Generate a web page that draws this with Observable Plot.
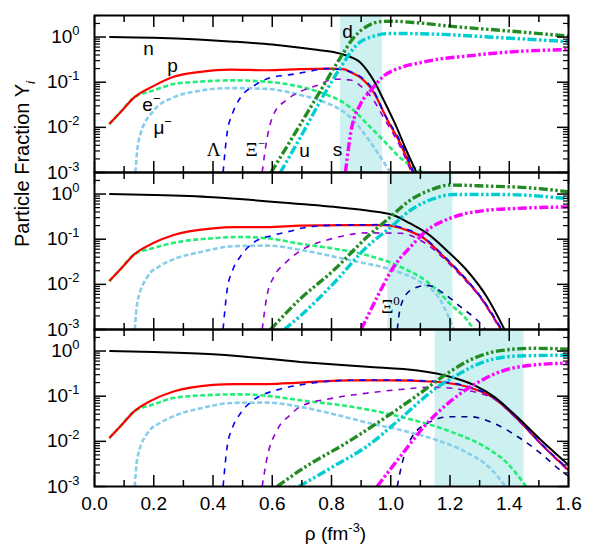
<!DOCTYPE html>
<html>
<head>
<meta charset="utf-8">
<script src="https://cdn.jsdelivr.net/npm/d3@7"></script>
<script src="https://cdn.jsdelivr.net/npm/@observablehq/plot@0.6"></script>
<style>
  body { margin: 0; background: #fff; }
  #chart svg { display: block; }
</style>
</head>
<body>
<div id="chart"></div>
<script>
// Three stacked panels (top to bottom)
const panels = ["A", "B", "C"];

// Axis ticks
const xMajor = [0, 0.2, 0.4, 0.6, 0.8, 1.0, 1.2, 1.4, 1.6];
const xMinor = [0.1, 0.3, 0.5, 0.7, 0.9, 1.1, 1.3, 1.5];
const yDecades = [1, 0.1, 0.01, 0.001];
const yMinor = [0.002, 0.003, 0.004, 0.005, 0.006, 0.007, 0.008, 0.009,
                0.02, 0.03, 0.04, 0.05, 0.06, 0.07, 0.08, 0.09,
                0.2, 0.3, 0.4, 0.5, 0.6, 0.7, 0.8, 0.9, 2, 3];

// Mixed-phase density ranges, one per panel
const shadePanel = ["A", "B", "C"];
const shadeStart = [0.83, 0.99, 1.15];
const shadeEnd = [0.972, 1.21, 1.45];

// Particle fractions [rho, Y] — panel A
const nA = [[0.05,1.0],[0.2,0.96],[0.35,0.88],[0.47,0.79],[0.6,0.68],[0.695,0.58],[0.76,0.51],[0.81,0.46],[0.85,0.39],[0.898,0.27],[0.943,0.107],[0.977,0.039],[1.02,0.01],[1.05,0.0034],[1.087,0.001]];
const pA = [[0.05,0.0118],[0.09,0.0225],[0.134,0.046],[0.2,0.083],[0.267,0.132],[0.358,0.17],[0.459,0.19],[0.583,0.184],[0.695,0.195],[0.8,0.2],[0.84,0.195],[0.87,0.16],[0.898,0.126],[0.943,0.059],[0.99,0.014],[1.033,0.0043],[1.075,0.001]];
const eA = [[0.05,0.0118],[0.09,0.0225],[0.134,0.046],[0.2,0.066],[0.267,0.091],[0.358,0.103],[0.459,0.11],[0.583,0.102],[0.695,0.079],[0.763,0.059],[0.864,0.0275],[0.92,0.012],[0.977,0.005],[1.033,0.0021],[1.11,0.001]];
const muA = [[0.138,0.001],[0.144,0.003],[0.155,0.007],[0.2,0.0234],[0.267,0.046],[0.358,0.065],[0.459,0.074],[0.583,0.071],[0.695,0.052],[0.763,0.039],[0.864,0.0166],[0.92,0.006],[0.965,0.0022],[0.999,0.001]];
const lamA = [[0.434,0.001],[0.448,0.0078],[0.465,0.0195],[0.493,0.046],[0.538,0.083],[0.594,0.126],[0.656,0.145],[0.718,0.17],[0.78,0.2],[0.84,0.185],[0.87,0.165],[0.898,0.133],[0.943,0.063],[0.977,0.021],[1.033,0.0048],[1.078,0.001]];
const ximA = [[0.566,0.001],[0.583,0.006],[0.605,0.0195],[0.645,0.039],[0.695,0.062],[0.757,0.087],[0.807,0.117],[0.864,0.112],[0.898,0.083],[0.943,0.039],[0.977,0.016],[1.033,0.0036],[1.07,0.001]];
const dA = [[0.596,0.001],[0.695,0.0117],[0.763,0.065],[0.83,0.35],[0.875,0.97],[0.92,1.74],[0.965,2.19],[1.0,2.24],[1.09,2.07],[1.2,1.74],[1.37,1.41],[1.6,1.05]];
const uA = [[0.627,0.001],[0.695,0.006],[0.763,0.039],[0.83,0.21],[0.887,0.69],[0.943,1.05],[1.0,1.2],[1.145,1.16],[1.37,0.97],[1.6,0.79]];
const sA = [[0.847,0.001],[0.864,0.007],[0.898,0.033],[0.932,0.065],[0.977,0.138],[1.033,0.21],[1.1,0.27],[1.145,0.31],[1.258,0.38],[1.37,0.45],[1.6,0.53]];

// Panel B
const nB = [[0.05,1.0],[0.2,0.95],[0.4,0.85],[0.695,0.6],[0.807,0.52],[0.92,0.43],[1.01,0.34],[1.067,0.22],[1.123,0.135],[1.2,0.048],[1.258,0.02],[1.325,0.0052],[1.384,0.001]];
const pB = [[0.05,0.0118],[0.09,0.0225],[0.134,0.046],[0.2,0.083],[0.267,0.124],[0.4,0.174],[0.47,0.186],[0.583,0.186],[0.695,0.2],[0.85,0.205],[0.977,0.204],[1.055,0.158],[1.112,0.105],[1.168,0.048],[1.235,0.0174],[1.303,0.0052],[1.372,0.001]];
const eB = [[0.05,0.0118],[0.09,0.0225],[0.134,0.046],[0.2,0.064],[0.267,0.083],[0.4,0.105],[0.493,0.112],[0.583,0.105],[0.695,0.079],[0.807,0.062],[0.92,0.044],[1.033,0.0245],[1.145,0.0087],[1.2,0.0037],[1.258,0.0016],[1.28,0.001]];
const muB = [[0.136,0.001],[0.144,0.0037],[0.178,0.0145],[0.223,0.026],[0.267,0.036],[0.358,0.052],[0.47,0.07],[0.583,0.072],[0.695,0.058],[0.864,0.034],[1.01,0.0204],[1.09,0.0123],[1.168,0.0044],[1.213,0.001]];
const lamB = [[0.434,0.001],[0.448,0.0078],[0.465,0.0195],[0.493,0.042],[0.538,0.085],[0.605,0.123],[0.673,0.158],[0.695,0.174],[0.807,0.204],[0.977,0.21],[1.055,0.165],[1.112,0.11],[1.168,0.05],[1.235,0.018],[1.303,0.0054],[1.375,0.001]];
const ximB = [[0.566,0.001],[0.583,0.006],[0.605,0.0145],[0.645,0.03],[0.695,0.055],[0.807,0.105],[0.92,0.138],[1.033,0.135],[1.1,0.095],[1.18,0.037],[1.235,0.016],[1.303,0.005],[1.37,0.001]];
const dB = [[0.594,0.001],[0.695,0.0048],[0.807,0.0204],[0.92,0.112],[1.0,0.316],[1.067,0.74],[1.134,1.23],[1.2,1.58],[1.314,1.51],[1.482,1.35],[1.6,1.12]];
const uB = [[0.64,0.001],[0.695,0.002],[0.807,0.0105],[0.92,0.068],[1.0,0.186],[1.067,0.44],[1.145,0.79],[1.213,0.98],[1.37,0.98],[1.6,0.79]];
const sB = [[0.9,0.001],[0.954,0.0052],[1.01,0.0245],[1.067,0.068],[1.123,0.158],[1.2,0.29],[1.314,0.43],[1.426,0.48],[1.6,0.52]];
const xi0B = [[1.022,0.001],[1.033,0.0032],[1.067,0.0074],[1.123,0.0095],[1.18,0.0062],[1.235,0.0032],[1.303,0.00135],[1.32,0.001]];

// Panel C
const nC = [[0.05,1.0],[0.2,0.95],[0.4,0.85],[0.695,0.575],[0.92,0.45],[1.09,0.37],[1.2,0.27],[1.28,0.178],[1.348,0.098],[1.426,0.035],[1.505,0.011],[1.6,0.003]];
const pC = [[0.05,0.0118],[0.09,0.0225],[0.134,0.046],[0.2,0.085],[0.267,0.127],[0.4,0.178],[0.47,0.186],[0.583,0.186],[0.695,0.2],[0.864,0.224],[1.0,0.225],[1.145,0.209],[1.258,0.162],[1.348,0.091],[1.426,0.032],[1.505,0.0091],[1.6,0.0023]];
const eC = [[0.05,0.0118],[0.09,0.0225],[0.134,0.046],[0.2,0.066],[0.267,0.091],[0.4,0.107],[0.493,0.11],[0.583,0.102],[0.695,0.081],[0.864,0.059],[1.033,0.035],[1.2,0.0166],[1.314,0.0078],[1.393,0.0033],[1.457,0.001]];
const muC = [[0.136,0.001],[0.144,0.004],[0.178,0.015],[0.223,0.026],[0.267,0.036],[0.358,0.054],[0.47,0.071],[0.583,0.072],[0.695,0.058],[0.807,0.04],[0.92,0.026],[1.033,0.0178],[1.145,0.0112],[1.258,0.0056],[1.337,0.0025],[1.387,0.001]];
const lamC = [[0.434,0.001],[0.448,0.0078],[0.465,0.0195],[0.493,0.042],[0.538,0.083],[0.617,0.138],[0.695,0.178],[0.864,0.226],[1.0,0.228],[1.145,0.214],[1.258,0.165],[1.348,0.093],[1.426,0.033],[1.505,0.0093],[1.6,0.0024]];
const ximC = [[0.566,0.001],[0.583,0.0045],[0.617,0.018],[0.662,0.039],[0.695,0.059],[0.807,0.091],[0.92,0.117],[1.033,0.141],[1.145,0.158],[1.235,0.141],[1.348,0.088],[1.426,0.031],[1.505,0.009],[1.6,0.0022]];
const dC = [[0.617,0.001],[0.695,0.0023],[0.864,0.0105],[0.977,0.032],[1.09,0.105],[1.2,0.35],[1.28,0.69],[1.37,1.02],[1.482,1.15],[1.6,1.1]];
const uC = [[0.69,0.001],[0.807,0.0028],[0.92,0.0078],[1.033,0.032],[1.145,0.138],[1.224,0.295],[1.314,0.575],[1.426,0.776],[1.6,0.81]];
const sC = [[0.954,0.001],[1.033,0.0047],[1.112,0.021],[1.2,0.076],[1.28,0.178],[1.37,0.35],[1.482,0.49],[1.6,0.54]];
const xi0C = [[1.022,0.001],[1.033,0.0023],[1.067,0.011],[1.123,0.025],[1.2,0.035],[1.27,0.035],[1.348,0.025],[1.426,0.013],[1.505,0.0055],[1.584,0.002],[1.6,0.0017]];

// Curve labels
const labelText = ["n", "p", "e^{−}", "μ^{−}", "Λ", "Ξ^{−}", "u", "s", "d", "Ξ^{0}"];
const labelPanel = ["A", "A", "A", "A", "A", "A", "A", "A", "A", "B"];
const labelX = [0.182, 0.263, 0.192, 0.23, 0.402, 0.543, 0.709, 0.82, 0.854, 0.999];
const labelY = [0.557, 0.229, 0.0316, 0.0098, 0.0032, 0.0032, 0.003, 0.0032, 1.29, 0.0031];

// ---- assemble tables ----
const series = {
  mu:  {A: muA, B: muB, C: muC},
  e:   {A: eA, B: eB, C: eC},
  p:   {A: pA, B: pB, C: pC},
  lam: {A: lamA, B: lamB, C: lamC},
  xim: {A: ximA, B: ximB, C: ximC},
  xi0: {B: xi0B, C: xi0C},
  n:   {A: nA, B: nB, C: nC},
  d:   {A: dA, B: dB, C: dC},
  u:   {A: uA, B: uB, C: uC},
  s:   {A: sA, B: sB, C: sC}
};

const quarkDash = "9 2.5 2.5 2.5 2.5 2.5";
const styles = {
  mu:  {stroke: "#87ceeb", strokeWidth: 2.6, strokeDasharray: "5 2.5"},
  e:   {stroke: "#22ee77", strokeWidth: 2.6, strokeDasharray: "5 2.5"},
  p:   {stroke: "#ff0000", strokeWidth: 2.2},
  lam: {stroke: "#0000ff", strokeWidth: 1.6, strokeDasharray: "6 6"},
  xim: {stroke: "#9400d3", strokeWidth: 1.6, strokeDasharray: "6 6"},
  xi0: {stroke: "#00008b", strokeWidth: 1.6, strokeDasharray: "6 6"},
  n:   {stroke: "#000000", strokeWidth: 2},
  d:   {stroke: "#228b22", strokeWidth: 3.4, strokeDasharray: quarkDash},
  u:   {stroke: "#00ced1", strokeWidth: 3.4, strokeDasharray: quarkDash},
  s:   {stroke: "#ff00ff", strokeWidth: 3.4, strokeDasharray: quarkDash}
};

const rows = [];
for (const [key, byPanel] of Object.entries(series)) {
  for (const [panel, pts] of Object.entries(byPanel)) {
    for (const [x, y] of pts) rows.push({key, panel, x, y});
  }
}
const shades = shadePanel.map((panel, i) => ({panel, x1: shadeStart[i], x2: shadeEnd[i]}));
const labels = labelText.map((t, i) => ({text: t, panel: labelPanel[i], x: labelX[i], y: labelY[i]}));
const isGreek = (t) => /^[ΛΞ]/.test(t);

const supFormat = (d) => `10^{${Math.round(Math.log10(d))}}`;

const chart = Plot.plot({
  width: 600,
  height: 550,
  marginLeft: 94,
  marginRight: 32,
  marginTop: 14,
  marginBottom: 63,
  style: {fontFamily: "'Liberation Sans', Arial, Helvetica, sans-serif", fontSize: "19px", background: "#fff", color: "#000"},
  x: {domain: [0, 1.6]},
  y: {type: "log", domain: [0.001, 3]},
  fy: {domain: panels, padding: 0, axis: null},
  marks: [
    Plot.rect(shades, {x1: "x1", x2: "x2", fy: "panel", fill: "#cdf1f1"}),
    ...Object.keys(styles).map((key) =>
      Plot.line(rows.filter((r) => r.key === key), {
        x: "x", y: "y", fy: "panel", curve: "monotone-x", clip: true,
        strokeLinecap: "butt", strokeLinejoin: "miter", ...styles[key]
      })
    ),
    Plot.text(labels.filter((l) => !isGreek(l.text)), {
      x: "x", y: "y", fy: "panel", text: "text", fontSize: 19, fill: "#000"
    }),
    Plot.text(labels.filter((l) => isGreek(l.text)), {
      x: "x", y: "y", fy: "panel", text: "text", fontSize: 19, fill: "#000",
      fontFamily: "'Liberation Serif', 'Times New Roman', serif"
    }),
    Plot.frame({stroke: "#000", strokeWidth: 2}),
    // inward tick marks on all four sides of every panel
    Plot.axisX(xMajor, {anchor: "bottom", tickSize: -11, fill: "none", strokeWidth: 1.5, label: null, facetAnchor: null}),
    Plot.axisX(xMinor, {anchor: "bottom", tickSize: -6, fill: "none", strokeWidth: 1.5, label: null, facetAnchor: null}),
    Plot.axisX(xMajor, {anchor: "top", tickSize: -11, fill: "none", strokeWidth: 1.5, label: null, facetAnchor: null}),
    Plot.axisX(xMinor, {anchor: "top", tickSize: -6, fill: "none", strokeWidth: 1.5, label: null, facetAnchor: null}),
    Plot.axisY(yDecades, {anchor: "left", tickSize: -12, fill: "none", strokeWidth: 1.5, label: null, facetAnchor: null}),
    Plot.axisY(yMinor, {anchor: "left", tickSize: -6, fill: "none", strokeWidth: 1.2, label: null, facetAnchor: null}),
    Plot.axisY(yDecades, {anchor: "right", tickSize: -12, fill: "none", strokeWidth: 1.5, label: null, facetAnchor: null}),
    Plot.axisY(yMinor, {anchor: "right", tickSize: -6, fill: "none", strokeWidth: 1.2, label: null, facetAnchor: null}),
    // tick labels
    Plot.axisX(xMajor, {anchor: "bottom", tickSize: 0, tickPadding: 10, stroke: "none", fontSize: 19,
      tickFormat: d3.format(".1f"), label: null}),
    Plot.axisY(yDecades, {anchor: "left", tickSize: 0, tickPadding: 15, stroke: "none", fontSize: 19,
      tickFormat: supFormat, label: null, facetAnchor: null}),
    // axis titles
    Plot.text([{panel: "C"}], {fy: "panel", frameAnchor: "bottom", text: () => "ρ (fm^{-3})",
      dy: 53, dx: 4, fontSize: 19, fill: "#000"}),
    Plot.text([{panel: "B"}], {fy: "panel", frameAnchor: "left", text: () => "Particle Fraction Y_{i}",
      rotate: -90, dx: -72, dy: -4, fontSize: 20, fill: "#000"})
  ]
});

document.getElementById("chart").appendChild(chart);

// Tick labels inherit the larger font
chart.querySelectorAll("g[aria-label$='tick label']").forEach((g) => g.setAttribute("font-size", "19"));

// Turn ^{..} and _{..} into superscript / subscript tspans
const SVGNS = "http://www.w3.org/2000/svg";
chart.querySelectorAll("text").forEach((t) => {
  const s = t.textContent;
  if (!/[\^_]\{/.test(s)) return;
  const fs = parseFloat(getComputedStyle(t).fontSize) || 19;
  while (t.firstChild) t.removeChild(t.firstChild);
  let shift = 0;
  const add = (str, kind) => {
    const ts = document.createElementNS(SVGNS, "tspan");
    ts.textContent = str;
    const target = kind === "^" ? -0.42 * fs : kind === "_" ? 0.28 * fs : 0;
    if (target !== shift) { ts.setAttribute("dy", (target - shift).toFixed(2)); shift = target; }
    if (kind) ts.setAttribute("font-size", (0.68 * fs).toFixed(1));
    if (kind === "_") ts.setAttribute("font-style", "italic");
    t.appendChild(ts);
  };
  const re = /([\^_])\{([^}]*)\}/g;
  let last = 0, m;
  while ((m = re.exec(s))) {
    if (m.index > last) add(s.slice(last, m.index), null);
    add(m[2], m[1]);
    last = re.lastIndex;
  }
  if (last < s.length) add(s.slice(last), null);
});
</script>
</body>
</html>
